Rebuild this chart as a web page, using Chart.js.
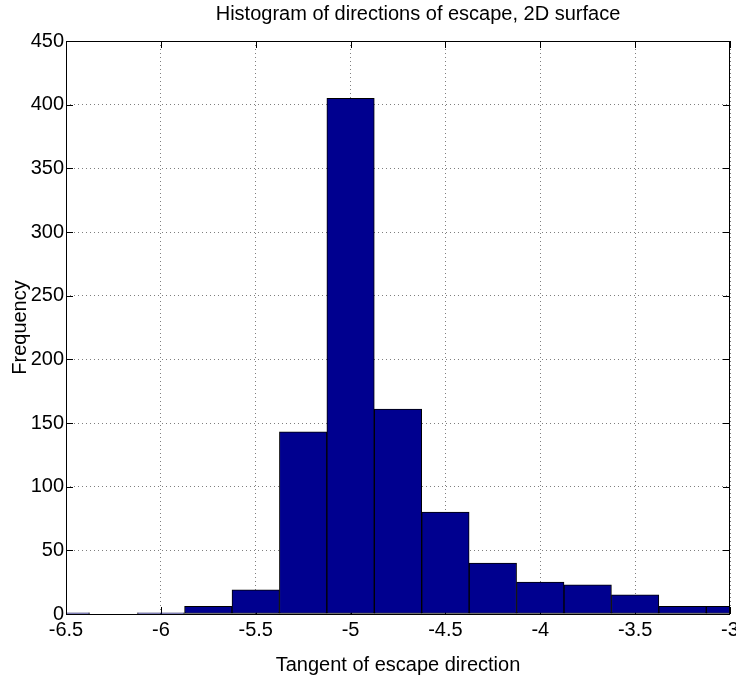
<!DOCTYPE html>
<html>
<head>
<meta charset="utf-8">
<title>Histogram of directions of escape</title>
<script src="https://cdn.jsdelivr.net/npm/chart.js@4.4.0/dist/chart.umd.min.js"></script>
<style>
    html, body { margin: 0; padding: 0; background: #fff; }
    canvas { display: block; }
</style>
</head>
<body>
<canvas id="escape_hist" width="736" height="684"></canvas>
<script>
    // bin centres (tangent of escape direction), bin width 0.25
    const binCenters = [-6.5, -6.25, -6, -5.75, -5.5, -5.25, -5, -4.75, -4.5, -4.25, -4, -3.75, -3.5, -3.25, -3];
    const counts = [1, 0, 1, 6, 19, 143, 405, 161, 80, 40, 25, 23, 15, 6, 6];

    const xTicks = [-6.5, -6, -5.5, -5, -4.5, -4, -3.5, -3];
    const yTicks = [0, 50, 100, 150, 200, 250, 300, 350, 400, 450];

    Chart.defaults.font.family = "'Liberation Sans', Arial, Helvetica, sans-serif";
    Chart.defaults.color = '#000';

    // matlab style frame: closed box with small inward ticks
    const axesBox = {
        id: 'axesBox',
        afterLayout(chart) {
            // title sits a little right of the plot centre
            if (chart.titleBlock) chart.titleBlock.left += 40;
        },
        beforeDatasetsDraw(chart) {
            const {ctx, chartArea: a, scales: {x, y}} = chart;
            const len = 7;
            ctx.save();
            ctx.strokeStyle = '#000';
            ctx.lineWidth = 1;
            ctx.beginPath();
            x.ticks.forEach(t => {
                const px = Math.round(x.getPixelForValue(t.value)) + 0.5;
                ctx.moveTo(px, a.bottom);
                ctx.lineTo(px, a.bottom - len);
                ctx.moveTo(px, a.top);
                ctx.lineTo(px, a.top + len);
            });
            y.ticks.forEach(t => {
                const py = Math.round(y.getPixelForValue(t.value)) + 0.5;
                ctx.moveTo(a.left, py);
                ctx.lineTo(a.left + len, py);
                ctx.moveTo(a.right, py);
                ctx.lineTo(a.right - len, py);
            });
            ctx.stroke();
            ctx.restore();
        },
        afterDatasetsDraw(chart) {
            const {ctx, chartArea: a} = chart;
            ctx.save();
            ctx.strokeStyle = '#000';
            ctx.lineWidth = 1;
            ctx.strokeRect(a.left + 0.5, a.top + 0.5, a.right - a.left - 1, a.bottom - a.top);
            ctx.restore();
        }
    };

    const data_hist = {
        datasets: [{
            label: 'Frequency',
            data: binCenters.map((c, i) => ({x: c, y: counts[i]})),
            backgroundColor: 'rgb(0,0,143)',
            borderColor: '#000',
            borderWidth: 1,
            borderSkipped: false,
            barPercentage: 1,
            categoryPercentage: 1,
            clip: 0
        }]
    };

    const config_hist = {
        type: 'bar',
        data: data_hist,
        plugins: [axesBox],
        options: {
            responsive: false,
            animation: false,
            layout: { padding: { left: 0, right: 6, top: 0, bottom: 0 } },
            plugins: {
                legend: { display: false },
                tooltip: { enabled: false },
                title: {
                    display: true,
                    text: 'Histogram of directions of escape, 2D surface',
                    fullSize: false,
                    font: { size: 20, weight: 'normal' },
                    padding: { top: 2.5, bottom: 14.5 }
                }
            },
            scales: {
                x: {
                    type: 'linear',
                    min: -6.5,
                    max: -3,
                    offset: false,
                    afterBuildTicks: s => { s.ticks = xTicks.map(v => ({value: v})); },
                    afterFit: s => { s.height = 70; s.paddingLeft = 0; s.paddingRight = 0; },
                    ticks: {
                        font: { size: 20 },
                        padding: 4,
                        maxRotation: 0,
                        autoSkip: false,
                        callback: v => String(v)
                    },
                    grid: { offset: false, drawTicks: false, color: 'rgba(0,0,0,0.5)' },
                    border: { display: false, dash: [1, 3] },
                    title: {
                        display: true,
                        text: 'Tangent of escape direction',
                        font: { size: 20 },
                        padding: { top: 0, bottom: 6.5 }
                    }
                },
                y: {
                    min: 0,
                    max: 450,
                    afterBuildTicks: s => { s.ticks = yTicks.map(v => ({value: v})); },
                    afterFit: s => { s.width = 66; },
                    ticks: {
                        font: { size: 20 },
                        padding: 2,
                        autoSkip: false,
                        callback: v => String(v)
                    },
                    grid: { drawTicks: false, color: 'rgba(0,0,0,0.5)' },
                    border: { display: false, dash: [1, 3] },
                    title: {
                        display: true,
                        text: 'Frequency',
                        font: { size: 20 },
                        padding: { top: 8, bottom: 0 }
                    }
                }
            }
        }
    };

    const escape_hist = new Chart(
        document.getElementById('escape_hist'),
        config_hist
    );
</script>
</body>
</html>
